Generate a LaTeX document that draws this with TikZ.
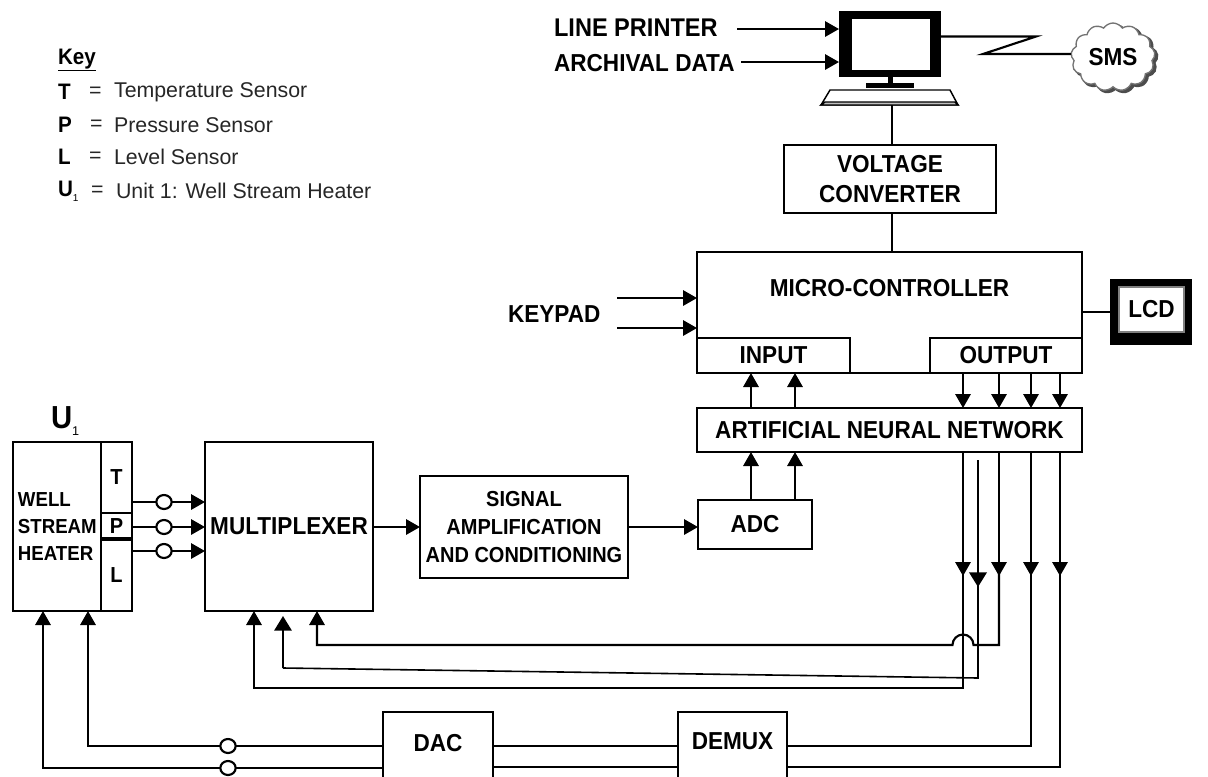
\documentclass[tikz,border=0pt]{standalone}
\usepackage{fontspec}
\setmainfont{Liberation Sans}[BoldFeatures={FakeStretch=0.92}]
\usetikzlibrary{arrows.meta,shapes.symbols,shapes.geometric}

\tikzset{every picture/.style={line width=1.6pt}}
\tikzset{
  boxwh/.style 2 args={minimum width=#1*0.75pt,minimum height=#2*0.75pt},
  blockbox/.style={draw,fill=white,rectangle,inner sep=0pt,outer sep=0pt,anchor=north west,align=center,font=\fontsize{18.4}{22.5}\selectfont\bfseries},
  sensbox/.style={blockbox,font=\fontsize{16.3}{21}\selectfont\bfseries},
  toptxt/.style={anchor=west,inner sep=0pt,font=\fontsize{18.4}{20}\selectfont\bfseries},
  keybold/.style={anchor=west,inner sep=0pt,font=\fontsize{16.8}{18}\selectfont\bfseries},
  keyplain/.style={anchor=west,inner sep=0pt,color=black!85,font=\fontsize{16}{18}\selectfont},
  arr/.style={-{Triangle[length=10.5pt,width=11.5pt]}},
  bigarr/.style={-{Triangle[length=11pt,width=13pt]}},
  swtch/.style={draw,fill=white,ellipse,inner sep=0pt,outer sep=0pt,minimum width=11.5pt,minimum height=10.5pt},
  smscloud/.style={cloud,cloud puffs=13,cloud puff arc=115,aspect=1.25,inner sep=0pt,minimum width=63pt,minimum height=51pt}
}

\begin{document}
\begin{tikzpicture}[x=0.75pt,y=0.75pt,yscale=-1,xscale=1]
\clip (0,0) rectangle (1208,776);

%Shape: Monitor
\node [draw=none,fill=black,rectangle,outer sep=0pt,anchor=north west,boxwh={102}{66}] (monitor) at (839,11) {};
\node [draw=none,fill=white,rectangle,anchor=north west,boxwh={78}{51}] (screen) at (851,18) {};
\fill (888,77) rectangle (893,83);
\fill (866,83) rectangle (914,88);
%Shape: Keyboard
\draw [line width=1.1pt,fill=white] (830,90) -- (950,90) -- (958,105) -- (821,105) -- cycle;
\draw [line width=1.1pt,fill=black!25] (825,102) -- (955,102) -- (958,105) -- (821,105) -- cycle;
\coordinate (keybd) at (892,105);

%Shape: Cloud
\node [smscloud,draw=black!70,fill=black!70] (cldshadow) at (1115.5,59) {};
\node [smscloud,draw=black!55,line width=1pt,fill=white,font=\fontsize{18.4}{20}\selectfont\bfseries] (cld) at (1113,57) {SMS};

%Shape: Boxes
\node [blockbox,boxwh={212}{68}] (volt) at (784,145) {VOLTAGE\\CONVERTER};
\node [blockbox,boxwh={385}{121},text height=12.5pt,text depth=37pt] (micro) at (697,252) {MICRO-CONTROLLER};
\node [blockbox,boxwh={153}{35}] (input) at (697,338) {INPUT};
\node [blockbox,boxwh={152}{35}] (output) at (930,338) {OUTPUT};
\node [blockbox,boxwh={385}{44}] (ann) at (697,408) {ARTIFICIAL NEURAL NETWORK};
\node [draw=none,fill=black,rectangle,outer sep=0pt,anchor=north west,boxwh={82}{66}] (lcdframe) at (1110,279) {};
\node [blockbox,draw=black!50,line width=1pt,boxwh={65}{45}] (lcd) at (1119,287) {LCD};
\node [blockbox,boxwh={114}{49}] (adc) at (698,500) {ADC};
\node [blockbox,boxwh={208}{102},font=\fontsize{16.3}{21}\selectfont\bfseries] (signal) at (420,476) {SIGNAL\\AMPLIFICATION\\AND CONDITIONING};
\node [blockbox,boxwh={168}{169}] (mux) at (205,442) {MULTIPLEXER};
\node [blockbox,boxwh={88}{169},align=left,font=\fontsize{15.2}{20}\selectfont\bfseries] (heater) at (13,442) {\hspace*{0.5pt}WELL\\\hspace*{0.5pt}STREAM\\\hspace*{0.5pt}HEATER};
\node [sensbox,boxwh={31}{71}] (tsen) at (101,442) {T};
\node [sensbox,boxwh={31}{26}] (psen) at (101,513) {P};
\node [sensbox,boxwh={31}{72}] (lsen) at (101,539) {L};
\node [blockbox,boxwh={110}{78},text height=12pt,text depth=12pt] (dac) at (383,712) {DAC};
\node [blockbox,boxwh={109}{78},text height=12pt,text depth=15pt] (demux) at (678,712) {DEMUX};
\draw [line width=2.4pt] (psen.south west) -- (psen.south east);

%Straight Lines
\draw [arr] (737,29) -- (monitor.west |- 0,29);
\draw [arr] (741,62) -- (monitor.west |- 0,62);
\draw (monitor.east |- 0,36.5) -- (1036,36.5) -- (983,54) -- (cld.west |- 0,54);
\draw (keybd) -- (volt.north -| keybd);
\draw (volt.south -| keybd) -- (micro.north -| keybd);
\draw (micro.east |- lcdframe) -- (lcdframe.west);
\draw [arr] (617,298) -- (micro.west |- 0,298);
\draw [arr] (617,328) -- (micro.west |- 0,328);
\foreach \x in {751,795} {
  \draw [arr] (ann.north -| \x,0) -- (input.south -| \x,0);
  \draw [arr] (adc.north -| \x,0) -- (ann.south -| \x,0);
}
\foreach \x in {963,999,1031,1060} {
  \draw [arr] (output.south -| \x,0) -- (ann.north -| \x,0);
  \draw [arr] (ann.south -| \x,0) -- (\x,576);
}
\draw [arr] (mux.east |- signal) -- (signal.west);
\draw [arr] (signal.east) -- (adc.west |- signal.east);

%Sensor lines
\foreach \y/\n in {502/a,527/b,551/c} {
  \node [swtch] (sw\n) at (164,\y) {};
  \draw (tsen.east |- sw\n) -- (sw\n);
  \draw [arr] (sw\n) -- (mux.west |- sw\n);
}

%Feedback lines
\draw [arr] (963,570) -- (963,688) -- (254,688) -- (mux.south -| 254,0);
\draw [arr] (999,570) -- (999,645) -- (973.5,645) arc [start angle=0,end angle=-180,radius=10.5] -- (317,645) -- (mux.south -| 317,0);
\draw [bigarr,line width=2pt] (978,460) -- (978,587);
\draw [line width=1.2pt] (978,580) -- (978,678) -- (283,668);
\draw [bigarr] (283,668) -- (283,616);

%Bottom lines
\draw (1031,570) -- (1031,746) -- (demux.east |- 0,746);
\draw (1060,570) -- (1060,767) -- (demux.east |- 0,767);
\draw (dac.east |- 0,746) -- (demux.west |- 0,746);
\draw (dac.east |- 0,767) -- (demux.west |- 0,767);
\node [swtch] (swd) at (228,746) {};
\node [swtch] (swe) at (228,768) {};
\draw (dac.west |- swd) -- (swd);
\draw (dac.west |- swe) -- (swe);
\draw [arr] (swd) -- (88,746) -- (heater.south -| 88,0);
\draw [arr] (swe) -- (43,768) -- (heater.south -| 43,0);

% Text Node
\node [toptxt,font=\fontsize{19.2}{20}\selectfont\bfseries] (lprinter) at (553,28) {LINE PRINTER};
% Text Node
\node [toptxt] (archive) at (553,63) {ARCHIVAL DATA};
% Text Node
\node [toptxt] (keypad) at (507,314) {KEYPAD};
% Text Node
\node [anchor=west,inner sep=0pt,font=\fontsize{23.9}{24}\selectfont\bfseries] (unitlbl) at (50,421) {U\raisebox{-5pt}{\fontsize{9.5}{10}\selectfont\mdseries 1}};

% Text Node
\node [keybold] (keytitle) at (57,60) {\underline{Key}};
% Text Node
\node [keybold] (keyt) at (57,92) {T};
\node [keyplain] (eqt) at (88,92) {=};
\node [keyplain] (txtt) at (113,92) {Temperature Sensor};
% Text Node
\node [keybold] (keyp) at (57,125) {P};
\node [keyplain] (eqp) at (89,125) {=};
\node [keyplain] (txtp) at (113,125) {Pressure Sensor};
% Text Node
\node [keybold] (keyl) at (57,157) {L};
\node [keyplain] (eql) at (88,157) {=};
\node [keyplain] (txtl) at (113,157) {Level Sensor};
% Text Node
\node [keybold] (keyu) at (57,191) {U\raisebox{-4pt}{\fontsize{7.5}{8}\selectfont\mdseries 1}};
\node [keyplain] (equ) at (90,191) {=};
\node [keyplain] (txtu) at (115,191) {Unit 1: Well Stream Heater};

\end{tikzpicture}
\end{document}
